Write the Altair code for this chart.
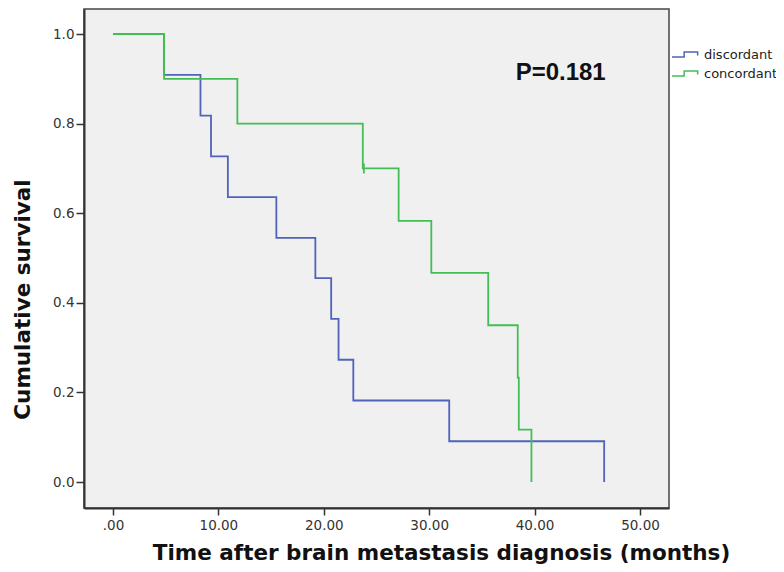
import altair as alt
import pandas as pd

# ---- data ----
groups = ["discordant", "concordant"]
group_colors = ["#4E63B9", "#43BE55"]

disc_time = [0.0, 4.85, 8.3, 9.3, 10.9, 15.5, 19.2, 20.7, 21.4, 22.8, 31.9, 46.6]
disc_surv = [1.0, 0.909, 0.818, 0.727, 0.636, 0.545, 0.455, 0.364, 0.273, 0.182, 0.091, 0.0]

conc_time = [0.0, 4.85, 11.8, 23.7, 27.1, 30.2, 35.6, 38.4, 38.5, 39.7]
conc_surv = [1.0, 0.9, 0.8, 0.7, 0.583, 0.467, 0.35, 0.233, 0.117, 0.0]

censor_time = [23.8]
censor_surv = [0.7]
censor_group = ["concordant"]

annot_text = ["P=0.181"]
annot_x = [38.2]
annot_y = [0.913]

x_ticks = [0, 10, 20, 30, 40, 50]
y_ticks = [0.0, 0.2, 0.4, 0.6, 0.8, 1.0]

# ---- tables ----
rows = []
for i, (t, s) in enumerate(zip(disc_time, disc_surv)):
    rows.append({"group": "discordant", "time": t, "surv": s, "idx": i})
for i, (t, s) in enumerate(zip(conc_time, conc_surv)):
    rows.append({"group": "concordant", "time": t, "surv": s, "idx": i})
curves = pd.DataFrame(rows)

censor = pd.DataFrame({"time": censor_time, "surv": censor_surv, "group": censor_group})
annot = pd.DataFrame({"label": annot_text, "x": annot_x, "y": annot_y})

FONT = "DejaVu Sans, sans-serif"
PFONT = "Arial, Liberation Sans, sans-serif"

xscale = alt.Scale(domain=[-2.75, 52.75], nice=False, zero=False)
yscale = alt.Scale(domain=[-0.058, 1.056], nice=False, zero=False)

x_axis = alt.Axis(
    values=x_ticks,
    labelExpr="datum.value == 0 ? '.00' : format(datum.value, '.2f')",
    title="Time after brain metastasis diagnosis (months)",
    titleFontSize=21.5, titleFontWeight="bold", titleColor="#111", titleFont=FONT,
    titleX=357, titleY=51, titleBaseline="alphabetic",
    labelFontSize=13.5, labelColor="#333", labelFont=FONT, labelPadding=3,
    tickSize=7, tickWidth=1.5, tickColor="#333",
    domainColor="#333", domainWidth=2, grid=False,
)
y_axis = alt.Axis(
    values=y_ticks, format=".1f",
    title="Cumulative survival",
    titleFontSize=21.5, titleFontWeight="bold", titleColor="#111", titleFont=FONT,
    titleX=-50, titleY=290,
    labelFontSize=13.5, labelColor="#333", labelFont=FONT, labelPadding=2,
    tickSize=8, tickWidth=1.5, tickColor="#333",
    domainColor="#333", domainWidth=2, grid=False,
)

legend_symbol = "M-2,0.36H-0.2V-0.36H1.8V0.16"

lines = alt.Chart(curves).mark_line(interpolate="step-after", strokeWidth=1.8).encode(
    x=alt.X("time:Q", scale=xscale, axis=x_axis),
    y=alt.Y("surv:Q", scale=yscale, axis=y_axis),
    color=alt.Color(
        "group:N",
        scale=alt.Scale(domain=groups, range=group_colors),
        legend=alt.Legend(
            title=None, orient="none", legendX=594, legendY=38,
            symbolType=legend_symbol, symbolSize=182, symbolStrokeWidth=1.5,
            labelFontSize=13, labelColor="#222", labelFont=FONT, labelOffset=11,
            rowPadding=4,
        ),
    ),
    order="idx:Q",
    detail="group:N",
)

censor_marks = alt.Chart(censor).mark_point(
    shape="M0,-1L0,1", size=100, filled=False, strokeWidth=1.8, color=group_colors[1], opacity=1
).encode(
    x=alt.X("time:Q", scale=xscale),
    y=alt.Y("surv:Q", scale=yscale),
)

text = alt.Chart(annot).mark_text(
    align="left", baseline="middle", fontSize=24, fontWeight="bold", font=PFONT, color="#111"
).encode(
    x=alt.X("x:Q", scale=xscale),
    y=alt.Y("y:Q", scale=yscale),
    text="label:N",
)

chart = alt.layer(lines, censor_marks, text).properties(
    width=585, height=499,
    background="white",
    autosize=alt.AutoSizeParams(type="none"),
    padding={"left": 76, "top": 1, "right": 107, "bottom": 56},
).configure_view(
    fill="#F0F0F0", stroke="#444", strokeWidth=1.5
)

chart.save("out.html", embed_options={"renderer": "svg", "actions": False})
